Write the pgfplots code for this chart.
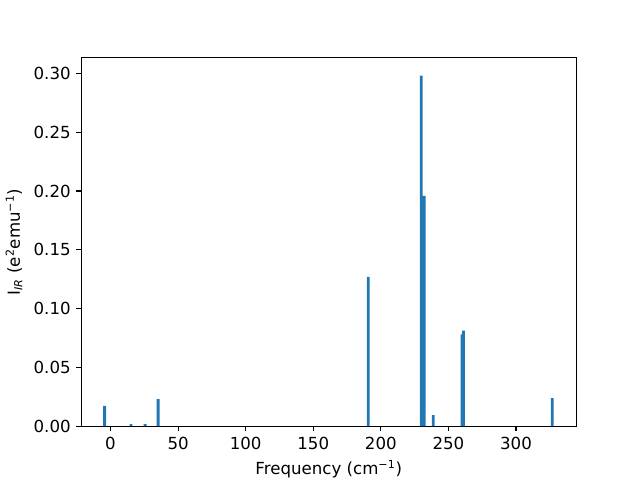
\documentclass[border=0pt]{standalone}
\usepackage{pgfplots}
\pgfplotsset{compat=1.18}
\usepackage{fontspec}
\setmainfont{DejaVu Sans}
\definecolor{mplblue}{HTML}{1F77B4}
\begin{document}
\fontsize{12pt}{14pt}\selectfont
\begin{tikzpicture}
\begin{axis}[
  scale only axis,
  width=357.1pt, height=265.7pt,
  xmin=-21.6, xmax=344.5, ymin=0, ymax=0.3133,
  xtick={0,50,100,150,200,250,300},
  ytick={0,0.05,0.10,0.15,0.20,0.25,0.30},
  yticklabel style={/pgf/number format/.cd, fixed, fixed zerofill, precision=2},
  /pgf/number format/assume math mode=true,
  scaled y ticks=false,
  tick align=outside, xtick pos=bottom, ytick pos=left,
  major tick length=3.5pt,
  every tick/.style={black, line width=0.8pt},
  axis line style={line width=0.8pt},
  ticklabel style={font=\fontsize{12pt}{14pt}\selectfont},
  label style={font=\fontsize{12pt}{14pt}\selectfont},
  xlabel={Frequency (cm\textsuperscript{−1})},
  ylabel={I\textsubscript{\itshape IR} (e\textsuperscript{2}emu\textsuperscript{−1})},
  xlabel style={yshift=0pt},
  ylabel style={yshift=0pt},
  ybar, bar width=2.1, bar shift=0pt,
]
\addplot[fill=mplblue, draw=none] coordinates {
  (-4.4,0.0172) (15.2,0.0017) (25.6,0.0017) (35.2,0.0229)
  (190.7,0.127) (229.9,0.2983) (232.1,0.1958) (238.8,0.0093)
  (260.0,0.078) (261.1,0.0813) (326.8,0.0237)
};
\end{axis}
\path[use as bounding box] ([xshift=-57.6pt,yshift=-38.2pt]current axis.south west) rectangle ([xshift=46.1pt,yshift=41.8pt]current axis.north east);
\end{tikzpicture}
\end{document}
